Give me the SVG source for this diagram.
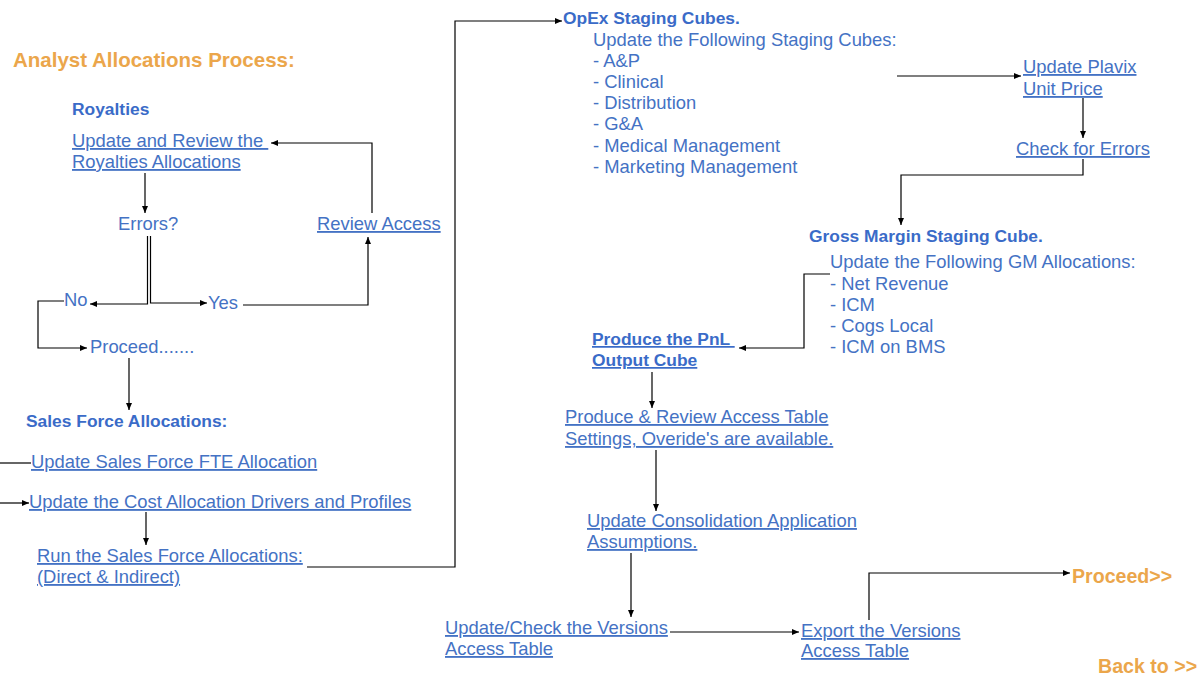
<svg xmlns="http://www.w3.org/2000/svg" width="1200" height="677" viewBox="0 0 1200 677">
<defs>
<marker id="ah" markerUnits="userSpaceOnUse" markerWidth="7" markerHeight="6" refX="7" refY="3" orient="auto">
<path d="M0,0 L7,3 L0,6 z" fill="#000"/>
</marker>
</defs>
<style>
text{font-family:"Liberation Sans",Arial,sans-serif;white-space:pre}
.t{font-size:18.4px;fill:#4472C4}
.u{text-decoration:underline}
.b{font-size:17.4px;font-weight:bold;fill:#3A6BC8}
.o{font-weight:bold;fill:#EBA64B}
.c{fill:none;stroke:#000;stroke-width:1.2;marker-end:url(#ah)}
.n{fill:none;stroke:#000;stroke-width:1.2}
</style>
<rect width="1200" height="677" fill="#fff"/>
<text class="o" x="13" y="67" font-size="20.5">Analyst Allocations Process:</text>
<g id="royalties"><text class="b" x="72" y="115">Royalties</text></g>
<g id="update-royalties"><text class="t u" x="72" y="147">Update and Review the </text><text class="t u" x="72" y="168">Royalties Allocations</text></g>
<g id="errors"><text class="t" x="118" y="230">Errors?</text></g>
<g id="review-access"><text class="t u" x="317" y="230">Review Access</text></g>
<g id="no"><text class="t" x="64" y="306">No</text></g>
<g id="yes"><text class="t" x="208" y="309">Yes</text></g>
<g id="proceed1"><text class="t" x="90" y="353">Proceed.......</text></g>
<g id="sales-force"><text class="b" x="26" y="427">Sales Force Allocations:</text></g>
<g id="update-fte"><text class="t u" x="31" y="468">Update Sales Force FTE Allocation</text></g>
<g id="update-cost"><text class="t u" x="29" y="508">Update the Cost Allocation Drivers and Profiles</text></g>
<g id="run-sales"><text class="t u" x="37" y="562">Run the Sales Force Allocations:</text><text class="t u" x="37" y="583">(Direct &amp; Indirect)</text></g>
<g id="opex"><text class="b" x="563" y="24">OpEx Staging Cubes.</text>
<text class="t" x="593" y="46">Update the Following Staging Cubes:</text>
<text class="t" x="593" y="67">- A&amp;P</text>
<text class="t" x="593" y="88">- Clinical</text>
<text class="t" x="593" y="109">- Distribution</text>
<text class="t" x="593" y="130">- G&amp;A</text>
<text class="t" x="593" y="152">- Medical Management</text>
<text class="t" x="593" y="173">- Marketing Management</text></g>
<g id="plavix"><text class="t u" x="1023" y="73">Update Plavix</text><text class="t u" x="1023" y="95">Unit Price</text></g>
<g id="check-errors"><text class="t u" x="1016" y="155">Check for Errors</text></g>
<g id="gross-margin"><text class="b" x="809" y="242">Gross Margin Staging Cube.</text>
<text class="t" x="830" y="268">Update the Following GM Allocations:</text>
<text class="t" x="830" y="290">- Net Revenue</text>
<text class="t" x="830" y="311">- ICM</text>
<text class="t" x="830" y="332">- Cogs Local</text>
<text class="t" x="830" y="353">- ICM on BMS</text></g>
<g id="pnl"><text class="b u" x="592" y="345">Produce the PnL </text><text class="b u" x="592" y="366">Output Cube</text></g>
<g id="access-table"><text class="t u" x="565" y="423">Produce &amp; Review Access Table</text><text class="t u" x="565" y="445">Settings, Overide's are available.</text></g>
<g id="consolidation"><text class="t u" x="587" y="527">Update Consolidation Application</text><text class="t u" x="587" y="548">Assumptions.</text></g>
<g id="versions"><text class="t u" x="445" y="634">Update/Check the Versions</text><text class="t u" x="445" y="655">Access Table</text></g>
<g id="export"><text class="t u" x="801" y="637">Export the Versions</text><text class="t u" x="801" y="657">Access Table</text></g>
<g id="proceed2"><text class="o" x="1072" y="583" font-size="19.6">Proceed&gt;&gt;</text></g>
<g id="back"><text class="o" x="1098" y="673" font-size="19.6">Back to &gt;&gt;</text></g>
<g id="connectors">
<path class="c" d="M372,213 V143 H271"/>
<path class="c" d="M145,173 V213"/>
<path class="c" d="M147.5,236 V304 H90"/>
<path class="c" d="M150.5,236 V303 H207"/>
<path class="c" d="M243,305 H368 V237"/>
<path class="c" d="M64,301 H38 V348 H87"/>
<path class="c" d="M129,358 V410"/>
<path class="n" d="M0,463 H31"/>
<path class="c" d="M0,503 H29"/>
<path class="c" d="M146,512 V545"/>
<path class="c" d="M307,567 H455 V21 H562"/>
<path class="c" d="M897,76 H1021"/>
<path class="c" d="M1083,98 V138"/>
<path class="c" d="M1083,159 V175 H901 V225"/>
<path class="c" d="M830,274 H804 V348 H739"/>
<path class="c" d="M652,372 V408"/>
<path class="c" d="M656,450 V511"/>
<path class="c" d="M631,553 V617"/>
<path class="c" d="M670,632 H799"/>
<path class="c" d="M869,620 V573 H1070"/>
</g>
</svg>
